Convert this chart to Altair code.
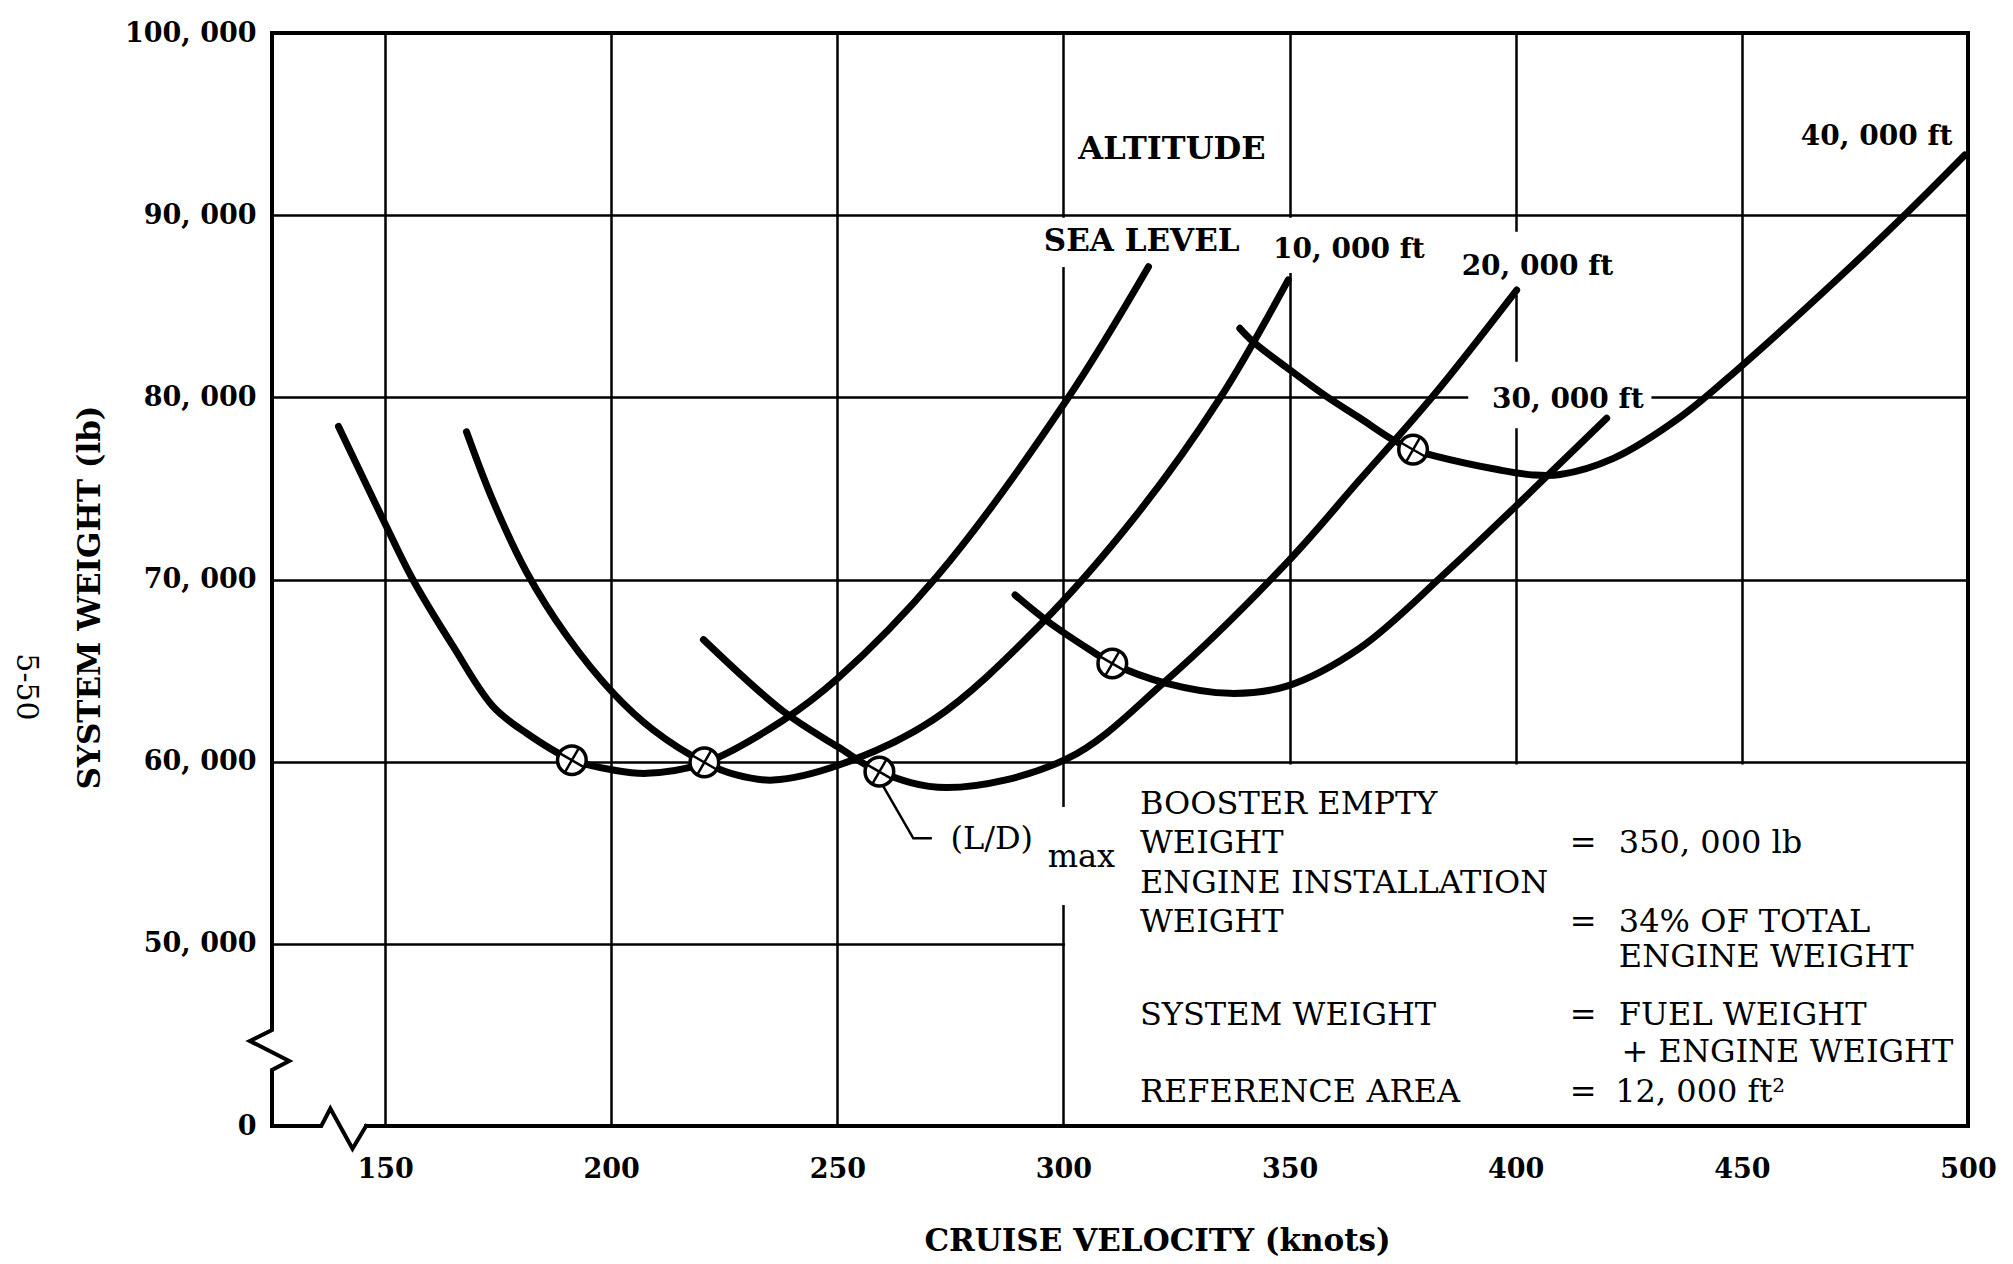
import altair as alt
import pandas as pd

FONT = "DejaVu Serif"

# ---------------- axes ----------------
x_domain = [125, 500]
y_domain = [40000, 100000]          # 40,000 position is labelled "0" (broken axis)
x_tick_values = [150, 200, 250, 300, 350, 400, 450, 500]
y_tick_values = [40000, 50000, 60000, 70000, 80000, 90000, 100000]

# ---------------- curves: cruise velocity (knots) vs system weight (lb) ----------------
sea_x = [139.7, 149.6, 156.2, 165.1, 173.9, 181.3, 191.3, 200.5, 207.9, 220.4, 238.1, 250.2, 272.0, 300.7, 318.8]
sea_y = [78400, 73270, 69970, 66310, 63020, 61560, 60100, 59540, 59360, 59910, 62290, 64600, 70160, 79850, 87170]

k10_x = [168.0, 173.9, 181.3, 190.2, 200.5, 209.3, 220.6, 227.7, 235.8, 250.2, 271.2, 294.8, 316.0, 334.6, 349.7]
k10_y = [78110, 74300, 70400, 66900, 63750, 61740, 59960, 59270, 58990, 59800, 62300, 67500, 73500, 79950, 86450]

k20_x = [220.4, 238.1, 250.2, 259.3, 274.2, 300.7, 322.8, 349.3, 365.6, 381.8, 400.2]
k20_y = [66700, 62750, 60800, 59450, 58580, 60150, 64480, 70900, 75500, 80100, 85890]

k30_x = [289.3, 296.1, 305.9, 310.8, 322.8, 336.8, 349.4, 365.6, 384.2, 399.5, 407.6, 420.1]
k30_y = [69150, 67780, 66130, 65390, 64300, 63750, 64150, 66250, 70300, 73900, 75850, 78850]

k40_x = [339.0, 341.9, 350.1, 358.2, 365.6, 372.9, 377.3, 381.8, 396.5, 403.9, 409.8, 421.6, 436.3, 449.6, 470.9, 486.4, 499.3]
k40_y = [83790, 83060, 81500, 80040, 78850, 77660, 77130, 76800, 76010, 75740, 75760, 76650, 78900, 81650, 86440, 90100, 93300]

altitudes = ["SEA LEVEL", "10,000 ft", "20,000 ft", "30,000 ft", "40,000 ft"]

# (L/D)max points
ld_x = [191.3, 220.6, 259.3, 310.8, 377.3]
ld_y = [60080, 59960, 59450, 65390, 77130]

# leader line for the (L/D)max note
leader_x = [260.2, 266.8, 270.9]
leader_y = [58630, 55790, 55790]

# chart frame with axis-break zig-zags
frame_x = [145.8, 500, 500, 125, 125, 120.1, 128.8, 125, 125, 135.9, 137.9, 142.8, 145.8]
frame_y = [40000, 40000, 100000, 100000, 45270, 44666, 43568, 43074, 40000, 40000, 40961, 38754, 40000]

# white areas where the grid is interrupted (note box, text backgrounds)
mask_x = [300.35, 298.0, 298.0, 348.0, 398.0, 389.5]
mask_x2 = [500.0, 302.0, 302.0, 352.0, 402.0, 430.0]
mask_y = [40000, 52130, 87150, 86830, 85620, 78300]
mask_y2 = [59850, 57510, 89860, 89860, 89090, 81960]

# curve labels
lab_text = ["ALTITUDE", "SEA LEVEL", "10, 000 ft", "20, 000 ft", "30, 000 ft", "40, 000 ft"]
lab_x = [324.0, 317.3, 363.1, 404.8, 411.5, 479.8]
lab_y = [93630, 88540, 88090, 87170, 79850, 94310]
lab_size = [32, 31, 28, 28, 28, 28]

# note block
note_left = ["BOOSTER EMPTY", "WEIGHT", "ENGINE INSTALLATION", "WEIGHT", "SYSTEM WEIGHT", "REFERENCE AREA"]
note_left_y = [57676, 55508, 53340, 51199, 46066, 41839]
note_eq_y = [55508, 51199, 46066, 41839]
note_right = ["350, 000 lb", "34% OF TOTAL", "ENGINE WEIGHT", "FUEL WEIGHT", "+ ENGINE WEIGHT", "12, 000 ft\u00b2"]
note_right_y = [55508, 51199, 49250, 46066, 44070, 41839]
note_right_x = [422.8, 422.8, 422.8, 422.8, 423.4, 422.0]

# ---------------- data frames ----------------
rows = []
for name, xs, ys in zip(altitudes, [sea_x, k10_x, k20_x, k30_x, k40_x], [sea_y, k10_y, k20_y, k30_y, k40_y]):
    for i, (a, b) in enumerate(zip(xs, ys)):
        rows.append({"alt": name, "v": a, "w": b, "i": i})
curves_df = pd.DataFrame(rows)
ld_df = pd.DataFrame({"v": ld_x, "w": ld_y})
leader_df = pd.DataFrame({"v": leader_x, "w": leader_y, "i": range(len(leader_x))})
frame_df = pd.DataFrame({"v": frame_x, "w": frame_y, "i": range(len(frame_x))})
mask_df = pd.DataFrame({"v": mask_x, "v2": mask_x2, "w": mask_y, "w2": mask_y2})
lab_df = pd.DataFrame({"v": lab_x, "w": lab_y, "t": lab_text, "s": lab_size})
note_l_df = pd.DataFrame({"v": [316.9] * len(note_left), "w": note_left_y, "t": note_left})
note_eq_df = pd.DataFrame({"v": [414.9] * len(note_eq_y), "w": note_eq_y, "t": ["="] * len(note_eq_y)})
note_r_df = pd.DataFrame({"v": note_right_x, "w": note_right_y, "t": note_right})
ldtxt_df = pd.DataFrame({"v": [275.0, 296.5], "w": [55760, 54740], "t": ["(L/D)", "max"]})

xsc = alt.Scale(domain=x_domain, nice=False, zero=False)
ysc = alt.Scale(domain=y_domain, nice=False, zero=False)

x_axis = alt.Axis(
    values=x_tick_values, grid=True, gridColor="black", gridWidth=2.5, gridOpacity=1,
    domain=False, ticks=False, labelFont=FONT, labelFontSize=27, labelFontWeight="bold",
    labelColor="black", labelPadding=30, labelFlush=False, labelOverlap=False,
    title="CRUISE VELOCITY (knots)", titleFont=FONT, titleFontSize=31, titleFontWeight="bold",
    titleColor="black", titleX=885, titleY=115, titleAlign="center", titleBaseline="middle",
)
y_axis = alt.Axis(
    values=y_tick_values, grid=True, gridColor="black", gridWidth=2.5,
    gridOpacity={"condition": {"test": "datum.value <= 40000", "value": 0}, "value": 1},
    domain=False, ticks=False, labelFont=FONT, labelFontSize=27, labelFontWeight="bold",
    labelColor="black", labelPadding=16, labelFlush=False, labelOverlap=False,
    labelExpr="datum.value == 40000 ? '0' : replace(format(datum.value, ','), ',', ', ')",
    title="SYSTEM WEIGHT (lb)", titleFont=FONT, titleFontSize=31, titleFontWeight="bold",
    titleColor="black", titleX=-182, titleY=564, titleAngle=270, titleAlign="center",
    titleBaseline="middle",
)


def X():
    return alt.X("v:Q", scale=xsc, axis=x_axis)


def Y():
    return alt.Y("w:Q", scale=ysc, axis=y_axis)


masks = alt.Chart(mask_df).mark_rect(fill="white", opacity=1).encode(
    x=X(), x2="v2:Q", y=Y(), y2="w2:Q"
)

curves = alt.Chart(curves_df).mark_line(
    color="black", strokeWidth=7, interpolate="catmull-rom", strokeCap="round", strokeJoin="round"
).encode(x=X(), y=Y(), detail="alt:N", order="i:Q")

leader = alt.Chart(leader_df).mark_line(color="black", strokeWidth=2.5).encode(
    x=X(), y=Y(), order="i:Q"
)

circles = alt.Chart(ld_df).mark_point(
    shape="circle", size=820, filled=True, fill="white", stroke="black", strokeWidth=3.5, opacity=1
).encode(x=X(), y=Y())

crosses = alt.Chart(ld_df).mark_point(
    shape="M0,-1L0,1M-1,0L1,0", size=760, filled=False, stroke="black", strokeWidth=2.5,
    angle=30, opacity=1
).encode(x=X(), y=Y())

frame = alt.Chart(frame_df).mark_line(
    color="black", strokeWidth=4, strokeJoin="miter", strokeCap="square"
).encode(x=X(), y=Y(), order="i:Q")

labels = alt.Chart(lab_df).mark_text(
    font=FONT, fontWeight="bold", align="center", baseline="middle", color="black"
).encode(x=X(), y=Y(), text="t:N", size=alt.Size("s:Q", scale=None, legend=None))

note_l = alt.Chart(note_l_df).mark_text(
    font=FONT, fontSize=32, align="left", baseline="middle", color="black"
).encode(x=X(), y=Y(), text="t:N")

note_eq = alt.Chart(note_eq_df).mark_text(
    font=FONT, fontSize=32, align="center", baseline="middle", color="black"
).encode(x=X(), y=Y(), text="t:N")

note_r = alt.Chart(note_r_df).mark_text(
    font=FONT, fontSize=32, align="left", baseline="middle", color="black"
).encode(x=X(), y=Y(), text="t:N")

ldtxt = alt.Chart(ldtxt_df).mark_text(
    font=FONT, fontSize=32, align="left", baseline="middle", color="black"
).encode(x=X(), y=Y(), text="t:N")

page_no = alt.Chart(pd.DataFrame({"t": ["5-50"]})).mark_text(
    font=FONT, fontSize=30, angle=90, align="center", baseline="middle", color="black"
).encode(x=alt.value(-246), y=alt.value(654), text="t:N")

chart = alt.layer(
    masks, curves, leader, circles, crosses, frame, labels, note_l, note_eq, note_r, ldtxt, page_no
).properties(
    width=1696, height=1093,
    autosize=alt.AutoSizeParams(type="none"),
    padding={"left": 264, "top": 25, "right": 37, "bottom": 136},
    background="white",
).configure_view(stroke="transparent")

chart.save("out.html", embed_options={"renderer": "svg", "actions": False})
